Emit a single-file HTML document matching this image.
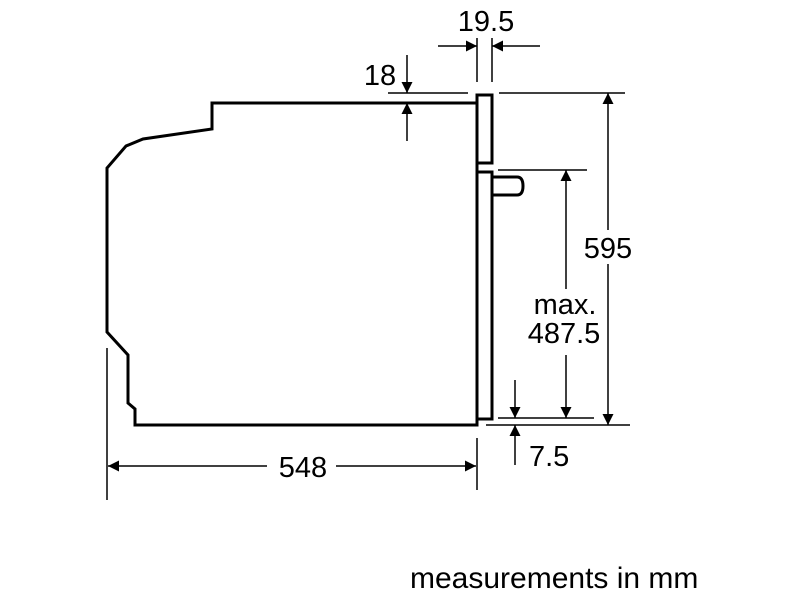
<!DOCTYPE html>
<html><head><meta charset="utf-8"><style>html,body{margin:0;padding:0;background:#fff;width:800px;height:600px;overflow:hidden}</style></head>
<body>
<svg width="800" height="600" xmlns="http://www.w3.org/2000/svg" font-family="Liberation Sans, sans-serif">
<defs>
<marker id="a" viewBox="0 0 10 10" refX="10" refY="5" markerWidth="16" markerHeight="11" markerUnits="userSpaceOnUse" orient="auto-start-reverse"><path d="M0,0 L10,5 L0,10 z" fill="#000"/></marker>
</defs>
<g fill="none" stroke="#000" stroke-width="3" stroke-linejoin="miter">
<path d="M477,103 L212,103 L212,129 L143,139 L126,146 L107,168 L107,332 L128,355 L128,403 L135,409 L135,425 L477,425 L477,419 L492,419 L492,172 L477,172 L477,170"/>
<rect x="477" y="95" width="15" height="68"/>
<path d="M477,163 L477,170 M477,172 L477,419"/>
<path d="M492,177 L517,177 Q523,177 523,186 Q523,195 517,195 L492,195"/>
</g>
<g stroke="#000" stroke-width="1.5" fill="none">
<line x1="388" y1="93" x2="468" y2="93"/>
<line x1="407" y1="55" x2="407" y2="93" marker-end="url(#a)"/>
<line x1="407" y1="141" x2="407" y2="103" marker-end="url(#a)"/>
<line x1="477" y1="38" x2="477" y2="82"/>
<line x1="492" y1="38" x2="492" y2="82"/>
<line x1="438" y1="46" x2="477" y2="46" marker-end="url(#a)"/>
<line x1="540" y1="46" x2="492" y2="46" marker-end="url(#a)"/>
<line x1="499" y1="93" x2="625" y2="93"/>
<line x1="486" y1="425" x2="630" y2="425"/>
<line x1="608" y1="230" x2="608" y2="93" marker-end="url(#a)"/>
<line x1="608" y1="264" x2="608" y2="425" marker-end="url(#a)"/>
<line x1="498" y1="170" x2="587" y2="170"/>
<line x1="498" y1="418" x2="594" y2="418"/>
<line x1="566" y1="289" x2="566" y2="170" marker-end="url(#a)"/>
<line x1="566" y1="355" x2="566" y2="418" marker-end="url(#a)"/>
<line x1="515" y1="380" x2="515" y2="418" marker-end="url(#a)"/>
<line x1="515" y1="465" x2="515" y2="425" marker-end="url(#a)"/>
<line x1="107" y1="348" x2="107" y2="500"/>
<line x1="477" y1="438" x2="477" y2="490"/>
<line x1="267" y1="466" x2="108" y2="466" marker-end="url(#a)"/>
<line x1="336" y1="466" x2="476" y2="466" marker-end="url(#a)"/>
</g>
<g fill="#000" font-size="29">
<text x="486" y="31" text-anchor="middle">19.5</text>
<text x="380" y="85" text-anchor="middle">18</text>
<text x="608" y="258" text-anchor="middle">595</text>
<text x="565" y="314" text-anchor="middle">max.</text>
<text x="564" y="343" text-anchor="middle">487.5</text>
<text x="529" y="466">7.5</text>
<text x="303" y="477" text-anchor="middle">548</text>
<text x="410" y="588" font-size="30">measurements in mm</text>
</g>
</svg>
</body></html>
